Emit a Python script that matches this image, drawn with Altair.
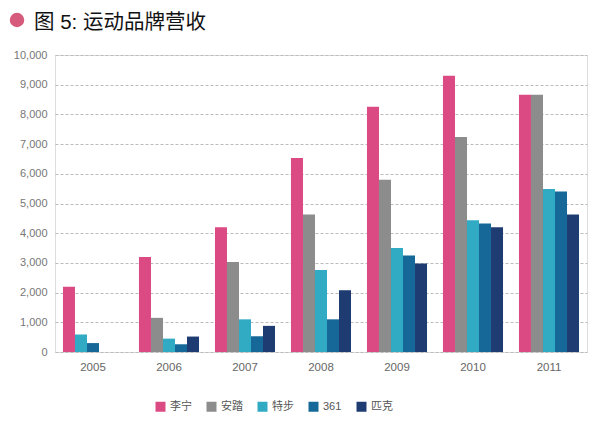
import altair as alt
import pandas as pd

years = ["2005", "2006", "2007", "2008", "2009", "2010", "2011"]
series = ["李宁", "安踏", "特步", "361", "匹克"]
li_ning = [2200, 3200, 4200, 6530, 8260, 9300, 8660]
anta = [None, 1150, 3030, 4630, 5800, 7240, 8660]
xtep = [590, 450, 1100, 2760, 3500, 4440, 5490]
s361 = [300, 260, 530, 1100, 3250, 4330, 5400]
peak = [None, 520, 880, 2080, 2980, 4200, 4630]
colors = ["#dc4a84", "#8c8c8c", "#30abc3", "#156897", "#1e3c72"]
title_text = "图 5: 运动品牌营收"

rows = []
for si, (name, vals) in enumerate(zip(series, [li_ning, anta, xtep, s361, peak])):
    for y, v in zip(years, vals):
        if v is not None:
            rows.append({"year": y, "series": name, "order": si, "value": v})
df = pd.DataFrame(rows)

FONT = "Liberation Sans, Noto Sans CJK SC, sans-serif"

bars = alt.Chart(df).transform_window(
    slot="row_number()", groupby=["year"], sort=[alt.SortField("order")]
).mark_bar().encode(
    x=alt.X("year:N", sort=years,
            scale=alt.Scale(paddingInner=0.21, paddingOuter=0.105),
            axis=alt.Axis(title=None, labelAngle=0, ticks=False, domain=False,
                          labelPadding=9, labelFontSize=11.5, labelColor="#666",
                          labelFont=FONT)),
    xOffset=alt.XOffset("slot:O", scale=alt.Scale(domain=[1, 2, 3, 4, 5], paddingInner=0, paddingOuter=0)),
    y=alt.Y("value:Q", scale=alt.Scale(domain=[0, 10000], nice=False),
            axis=alt.Axis(title=None, values=list(range(0, 10001, 1000)), format=",.0f",
                          ticks=False, domain=False, labelPadding=8,
                          labelFontSize=11, labelColor="#777", labelFont=FONT,
                          grid=True, gridDash=[3, 2], gridColor="#bbbbbb", gridWidth=1)),
    color=alt.Color("series:N", sort=series,
                    scale=alt.Scale(domain=series, range=colors),
                    legend=alt.Legend(title=None, orient="none", direction="horizontal",
                                      legendX=100, legendY=346, symbolType="square",
                                      symbolSize=100, symbolStrokeWidth=0,
                                      labelFontSize=11, labelColor="#555", labelFont=FONT,
                                      labelOffset=4, columnPadding=14, padding=0)),
)

tdf = pd.DataFrame({"t": [title_text]})
title = alt.Chart(tdf).mark_text(align="left", baseline="alphabetic", fontSize=20.5,
                                 font="Liberation Sans, Noto Sans CJK SC, sans-serif",
                                 fontWeight="normal", color="#111").encode(
    x=alt.value(-21), y=alt.value(-26), text="t:N")
dot = alt.Chart(tdf).mark_circle(color="#d65a7c", opacity=1, size=210).encode(
    x=alt.value(-38), y=alt.value(-35))

chart = alt.layer(bars, title, dot).properties(
    width=532, height=297,
    autosize=alt.AutoSizeParams(type="none"),
    padding={"left": 47, "top": 47, "right": 5, "bottom": 60},
).configure_view(stroke=None).configure(background="white")

chart.save("out.html", embed_options={"renderer": "svg", "actions": False})
